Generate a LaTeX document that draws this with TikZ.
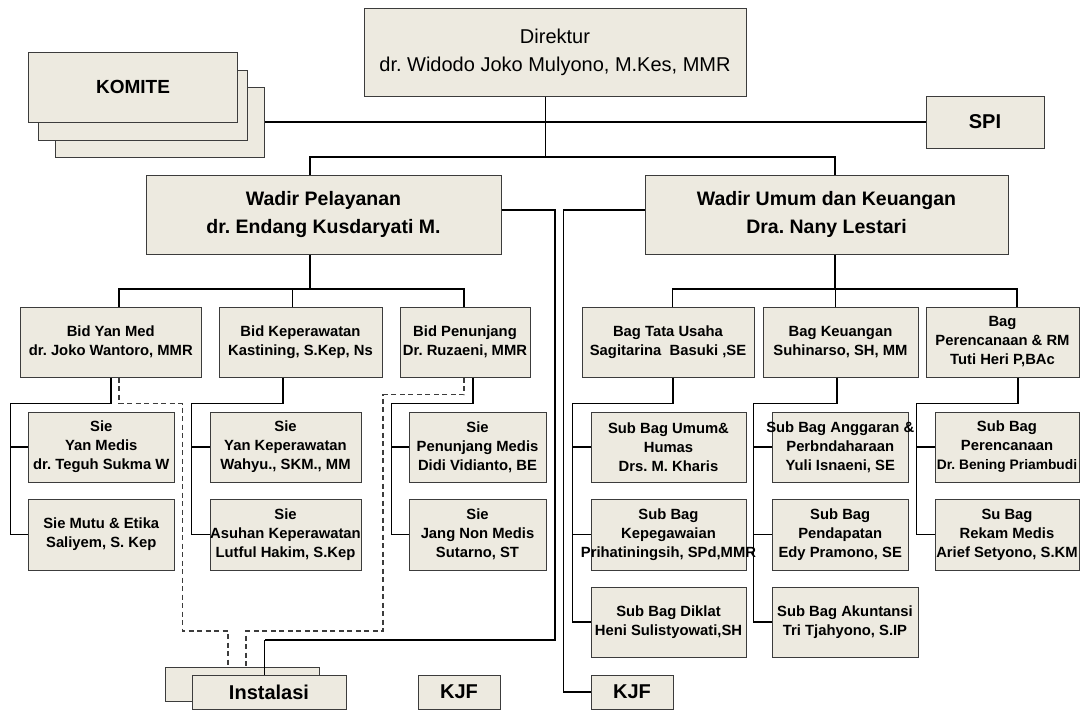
\documentclass[tikz,border=0pt]{standalone}
\usepackage{fontspec}
\setmainfont{Liberation Sans}
\usepackage{xcolor}
\definecolor{Col1}{RGB}{237,234,224}
\definecolor{Col2}{RGB}{60,60,60}
\usepackage{tikz}
\frenchspacing
\tikzstyle{Unit}=[rectangle,draw=Col2,fill=Col1,line width=1pt,inner sep=0pt,
align=center,font=\bfseries\fontsize{14.8}{19}\selectfont]
\tikzstyle{Head}=[Unit,font=\bfseries\fontsize{19.5}{28}\selectfont]
\tikzstyle{Big}=[Unit,font=\bfseries\fontsize{20}{24}\selectfont]
\tikzstyle{Edge}=[draw=black,line width=1.6pt]
\tikzstyle{EdgeThin}=[draw=black,line width=0.8pt]
\tikzstyle{EdgeDash}=[draw=Col2,line width=1.1pt,dash pattern=on 5pt off 3.5pt]

\begin{document}
\begin{tikzpicture}[x=1pt,y=-1pt]
    \useasboundingbox(0,0)rectangle(1080,710);
    % top
    \node[Unit,font=\fontsize{20}{28}\selectfont,minimum width=382,minimum height=88](dir)at(555,52){Direktur\\dr. Widodo Joko Mulyono, M.Kes, MMR};
    \node[Big,minimum width=209,minimum height=70](kom3)at(160,122){};
    \node[Big,minimum width=209,minimum height=70](kom2)at(142.5,105){};
    \node[Big,font=\bfseries\fontsize{19}{24}\selectfont,minimum width=209,minimum height=70](kom)at(133,87){KOMITE};
    \node[Big,minimum width=118,minimum height=52](spi)at(985,122){SPI};
    \node[Head,minimum width=355,minimum height=79](wp)at(323.5,214.5){Wadir Pelayanan\\dr. Endang Kusdaryati M.};
    \node[Head,minimum width=363,minimum height=79](wu)at(826.5,214.5){Wadir Umum dan Keuangan\\Dra. Nany Lestari};
    % bidang and bagian
    \node[Unit,minimum width=181.5,minimum height=70](bym)at(110.75,342){Bid Yan Med\\dr. Joko Wantoro, MMR};
    \node[Unit,minimum width=163,minimum height=70](bkp)at(300.5,342){Bid Keperawatan\\Kastining, S.Kep, Ns};
    \node[Unit,minimum width=130,minimum height=70](bpn)at(465,342){Bid Penunjang\\Dr. Ruzaeni, MMR};
    \node[Unit,minimum width=172,minimum height=70](btu)at(668,342){Bag Tata Usaha\\Sagitarina\ \ Basuki ,SE};
    \node[Unit,minimum width=155,minimum height=70](bku)at(840.5,342){Bag Keuangan\\Suhinarso, SH, MM};
    \node[Unit,minimum width=153,minimum height=70](bpr)at(1002.5,342){Bag\\Perencanaan \& RM\\Tuti Heri P,BAc};
    % seksi and sub bagian
    \node[Unit,minimum width=145.5,minimum height=70](sym)at(101.25,447){Sie\\Yan Medis\\dr. Teguh Sukma W};
    \node[Unit,minimum width=145.5,minimum height=71](smu)at(101.25,534.5){Sie Mutu \& Etika\\Saliyem, S. Kep};
    \node[Unit,minimum width=151,minimum height=70](syk)at(285.5,447){Sie\\Yan Keperawatan\\Wahyu., SKM., MM};
    \node[Unit,minimum width=151,minimum height=71](sak)at(285.5,534.5){Sie\\Asuhan Keperawatan\\Lutful Hakim, S.Kep};
    \node[Unit,minimum width=137,minimum height=70](spm)at(477.5,447){Sie\\Penunjang Medis\\Didi Vidianto, BE};
    \node[Unit,minimum width=137,minimum height=71](sjn)at(477.5,534.5){Sie\\Jang Non Medis\\Sutarno, ST};
    \node[Unit,minimum width=155,minimum height=70](sbu)at(668.5,447){Sub Bag Umum\&\\Humas\\Drs. M. Kharis};
    \node[Unit,minimum width=155,minimum height=71](sbk)at(668.5,534.5){Sub Bag\\Kepegawaian\\\makebox[0pt]{Prihatiningsih, SPd,MMR}};
    \node[Unit,minimum width=155,minimum height=70](sbd)at(668.5,622){Sub Bag Diklat\\Heni Sulistyowati,SH};
    \node[Unit,minimum width=136.5,minimum height=70](sba)at(840.25,447){\makebox[0pt]{Sub Bag Anggaran \&}\\Perbndaharaan\\Yuli Isnaeni, SE};
    \node[Unit,minimum width=136.5,minimum height=71](sbp)at(840.25,534.5){Sub Bag\\Pendapatan\\Edy Pramono, SE};
    \node[Unit,minimum width=146,minimum height=70](sbak)at(845,622){Sub Bag Akuntansi\\Tri Tjahyono, S.IP};
    \node[Unit,minimum width=144,minimum height=70](sbr)at(1007,447){Sub Bag\\Perencanaan\\\makebox[0pt]{\fontsize{13.8}{19}\selectfont Dr. Bening Priambudi}};
    \node[Unit,minimum width=144,minimum height=71](sbrm)at(1007,534.5){Su Bag\\Rekam Medis\\Arief Setyono, S.KM};
    % bottom
    \node[Big,minimum width=154,minimum height=34](insb)at(242,684){};
    \node[Big,minimum width=154,minimum height=34](ins)at(269,692){Instalasi};
    \node[Big,minimum width=82,minimum height=34](kjf1)at(459,692){KJF};
    \node[Big,minimum width=82,minimum height=34](kjf2)at(632,692){KJF};
    % upper lines
    \coordinate(bus1)at(545,157);
    \draw[EdgeThin]([xshift=-10]dir.south)--(bus1);
    \draw[Edge](kom3.east)--(spi.west);
    \draw[Edge]([xshift=-13.5]wp.north)|-(bus1)-|([xshift=8.5]wu.north);
    \coordinate(bus2)at(310,289);
    \draw[Edge]([xshift=-13.5]wp.south)--(bus2);
    \draw[Edge]([xshift=8.25]bym.north)|-(bus2)-|([xshift=-1]bpn.north);
    \draw[EdgeThin]([xshift=-8.5]bkp.north)--++(0,-18);
    \coordinate(bus3)at(835,289);
    \draw[Edge]([xshift=8.5]wu.south)--(bus3);
    \draw[Edge]([xshift=4.6]btu.north)|-(bus3)-|([xshift=14.5]bpr.north);
    \draw[EdgeThin]([xshift=-5.5]bku.north)--++(0,-18);
    % columns
    \draw[Edge](bym.south)--++(0,26)-|([xshift=-17.5]smu.west)--(smu.west);
    \draw[Edge](sym.west)--++(-17.5,0);
    \draw[Edge]([xshift=-17.5]bkp.south)--++(0,26)-|([xshift=-18]sak.west)--(sak.west);
    \draw[Edge](syk.west)--++(-18,0);
    \draw[Edge]([xshift=8]bpn.south)--++(0,26)-|([xshift=-17]sjn.west)--(sjn.west);
    \draw[Edge](spm.west)--++(-17,0);
    \draw[Edge]([xshift=5]btu.south)--++(0,26)-|([xshift=-18]sbd.west)--(sbd.west);
    \draw[Edge](sbu.west)--++(-18,0);
    \draw[Edge](sbk.west)--++(-18,0);
    \draw[Edge]([xshift=-3.5]bku.south)--++(0,26)-|([xshift=-18]sbak.west)--(sbak.west);
    \draw[Edge](sba.west)--++(-18,0);
    \draw[Edge](sbp.west)--++(-18,0);
    \draw[Edge]([xshift=15.5]bpr.south)--++(0,26)-|([xshift=-18]sbrm.west)--(sbrm.west);
    \draw[Edge](sbr.west)--++(-18,0);
    % instalasi and kjf
    \draw[EdgeDash]([xshift=8.25]bym.south)--++(0,26)-|(182.5,631)-|([xshift=-14]insb.north);
    \draw[EdgeDash]([xshift=-1]bpn.south)--++(0,17)-|(383,631)-|([xshift=4]insb.north);
    \coordinate(bend)at(264.5,640);
    \draw[Edge]([yshift=4.5]wp.east)-|(555,640)--(bend);
    \draw[EdgeThin](bend)--([xshift=-4.5]ins.north);
    \draw[Edge]([yshift=4.5]wu.west)-|([xshift=-27]kjf2.west)--(kjf2.west);
\end{tikzpicture}
\end{document}
